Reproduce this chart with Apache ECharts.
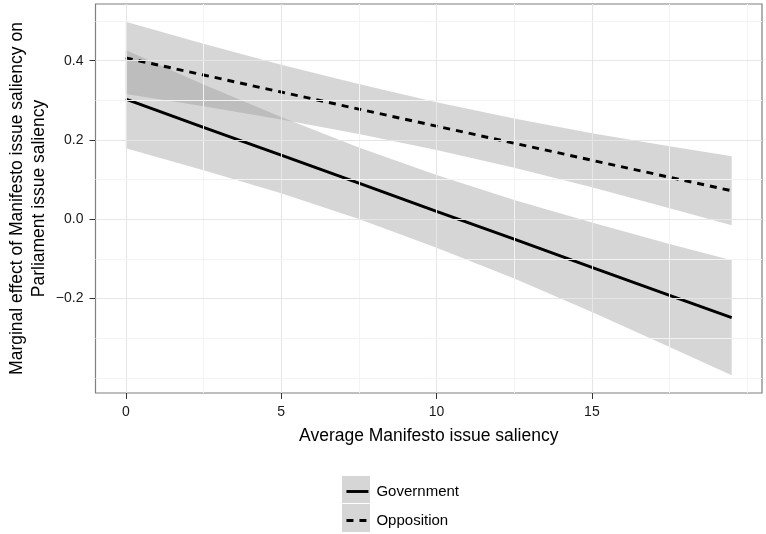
<!DOCTYPE html>
<html>
<head>
<meta charset="utf-8">
<script src="https://cdn.jsdelivr.net/npm/echarts@6/dist/echarts.min.js"></script>
<style>
html,body{margin:0;padding:0;background:#fff;}
#chart{width:766px;height:534px;}
</style>
</head>
<body>
<div id="chart"></div>
<script>
// Average Manifesto issue saliency (x positions where values were read)
const xs = [0, 2.5, 5, 7.5, 10, 12.5, 15, 17.5, 19.5];

// Government: fitted marginal effect and confidence band
const govFit   = [0.303, 0.232, 0.162, 0.091, 0.020, -0.050, -0.121, -0.192, -0.248];
const govUpper = [0.427, 0.340, 0.258, 0.181, 0.112, 0.049, -0.008, -0.062, -0.103];
const govLower = [0.179, 0.124, 0.066, 0.001, -0.072, -0.149, -0.234, -0.322, -0.393];

// Opposition: fitted marginal effect and confidence band
const oppFit   = [0.407, 0.364, 0.321, 0.278, 0.235, 0.192, 0.149, 0.106, 0.072];
const oppUpper = [0.498, 0.443, 0.390, 0.341, 0.295, 0.254, 0.217, 0.184, 0.159];
const oppLower = [0.316, 0.285, 0.252, 0.215, 0.175, 0.130, 0.081, 0.028, -0.015];

// Tick labels and grid lines
const xTicks = [0, 5, 10, 15];
const yTicks = [-0.2, 0.0, 0.2, 0.4];
const xMajorGrid = [0, 5, 10, 15];
const xMinorGrid = [2.5, 7.5, 12.5, 17.5, 20];
const yMajorGrid = [-0.2, 0.0, 0.2, 0.4];
const yMinorGrid = [-0.4, -0.3, -0.1, 0.1, 0.3, 0.5];

const seriesNames = ['Government', 'Opposition'];
const xTitle = 'Average Manifesto issue saliency';
const yTitle = 'Marginal effect of Manifesto issue saliency on\nParliament issue saliency';

const FONT = '"Liberation Sans", Arial, Helvetica, sans-serif';
const BAND = 'rgba(153,153,153,0.4)';

function zip3(a, b, c) { return a.map((v, i) => [v, b[i], c[i]]); }
function zip2(a, b) { return a.map((v, i) => [v, b[i]]); }

function bandRender(params, api) {
  if (params.dataIndexInside !== 0) return null;
  const n = params.dataInsideLength;
  const pts = [];
  for (let i = 0; i < n; i++) pts.push(api.coord([api.value(0, i), api.value(2, i)]));
  for (let i = n - 1; i >= 0; i--) pts.push(api.coord([api.value(0, i), api.value(1, i)]));
  return { type: 'polygon', shape: { points: pts }, style: { fill: BAND } };
}

const MAJ = { color: '#e6e6e6', width: 1.1, type: 'solid' };
const MIN = { color: '#f3f3f3', width: 1, type: 'solid' };
const gridLines = []
  .concat(xMajorGrid.map(v => ({ xAxis: v, lineStyle: MAJ })))
  .concat(xMinorGrid.map(v => ({ xAxis: v, lineStyle: MIN })))
  .concat(yMajorGrid.map(v => ({ yAxis: v, lineStyle: MAJ })))
  .concat(yMinorGrid.map(v => ({ yAxis: v, lineStyle: MIN })));

const chart = echarts.init(document.getElementById('chart'), null, { renderer: 'canvas' });
chart.setOption({
  animation: false,
  backgroundColor: '#fff',
  textStyle: { fontFamily: FONT },
  grid: { left: 95.5, right: 4, top: 4, bottom: 141, containLabel: false, outerBoundsMode: 'none',
    show: true, borderColor: '#7f7f7f', borderWidth: 1.2, backgroundColor: 'transparent' },
  xAxis: {
    type: 'value', min: -0.975, max: 20.475,
    axisLine: { show: false, onZero: false },
    splitLine: { show: false },
    axisTick: { show: true, customValues: xTicks, length: 6, lineStyle: { color: '#333', width: 1 } },
    axisLabel: { customValues: xTicks, margin: 12, fontSize: 14, color: '#1a1a1a', fontFamily: FONT },
    name: xTitle, nameLocation: 'middle', nameGap: 34, nameMoveOverlap: false,
    nameTextStyle: { fontSize: 17.5, color: '#000', fontFamily: FONT }
  },
  yAxis: {
    type: 'value', min: -0.438, max: 0.543,
    axisLine: { show: false, onZero: false },
    splitLine: { show: false },
    axisTick: { show: true, customValues: yTicks, length: 6, lineStyle: { color: '#333', width: 1 } },
    axisLabel: { customValues: yTicks, margin: 12, fontSize: 14, color: '#1a1a1a', fontFamily: FONT,
      formatter: v => v.toFixed(1).replace('-', '\u2212') },
    name: yTitle, nameLocation: 'middle', nameGap: 45, nameRotate: 90, nameMoveOverlap: false,
    nameTextStyle: { fontSize: 17.5, color: '#000', lineHeight: 22, fontFamily: FONT, align: 'center' }
  },
  legend: {
    data: seriesNames, orient: 'vertical', left: 345, top: 484, padding: 0,
    itemWidth: 22, itemHeight: 14, itemGap: 14,
    itemStyle: { color: 'transparent', borderColor: 'transparent', borderWidth: 0, opacity: 0 },
    lineStyle: { width: 2.9 },
    textStyle: { fontSize: 15, color: '#000', fontFamily: FONT, padding: [0, 0, 0, 3] },
    selectedMode: false
  },
  graphic: [
    { type: 'rect', left: 342, top: 476, shape: { width: 28, height: 27 }, style: { fill: BAND }, z: -1 },
    { type: 'rect', left: 342, top: 504, shape: { width: 28, height: 28 }, style: { fill: BAND }, z: -1 }
  ],
  series: [
    { type: 'line', name: 'grid', data: [], z: 0, silent: true,
      markLine: { silent: true, symbol: 'none', label: { show: false }, data: gridLines, animation: false } },
    { type: 'custom', name: 'govBand', renderItem: bandRender, data: zip3(xs, govLower, govUpper),
      encode: { x: 0, y: [1, 2] }, z: 1, silent: true },
    { type: 'custom', name: 'oppBand', renderItem: bandRender, data: zip3(xs, oppLower, oppUpper),
      encode: { x: 0, y: [1, 2] }, z: 1, silent: true },
    { type: 'line', name: 'Government', data: zip2(xs, govFit), symbol: 'none', z: 3,
      lineStyle: { color: '#000', width: 2.9, type: 'solid' }, itemStyle: { color: '#000' } },
    { type: 'line', name: 'Opposition', data: zip2(xs, oppFit), symbol: 'none', z: 3,
      lineStyle: { color: '#000', width: 2.9, type: [7, 6] }, itemStyle: { color: '#000' } }
  ]
});
</script>
</body>
</html>
